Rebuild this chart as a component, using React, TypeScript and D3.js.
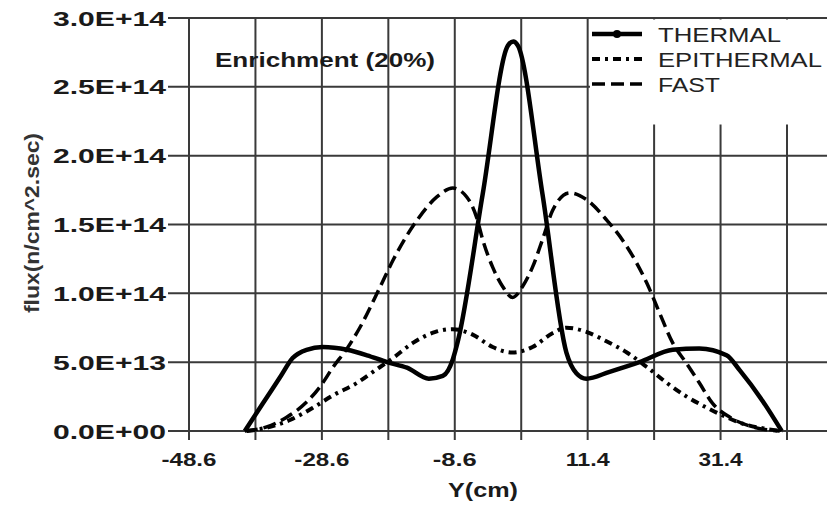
import * as d3 from "d3";

// flux in units of 1E+14 n/cm^2.sec, position in cm
const thermal: [number, number][] = [
  [-40.2, 0], [-37.5, 0.2], [-34.9, 0.39], [-33, 0.53], [-30.9, 0.59], [-28.5, 0.61],
  [-24.8, 0.59], [-21.8, 0.55], [-18.8, 0.5], [-15.8, 0.46], [-12.5, 0.38], [-10.4, 0.4],
  [-8.9, 0.52], [-8.1, 0.66], [-4.4, 1.72], [-0.6, 2.8], [0.2, 2.83], [0.9, 2.8],
  [4.6, 1.72], [8.2, 0.57], [9.7, 0.42], [11.2, 0.38], [14.7, 0.43], [19.2, 0.5],
  [24.2, 0.59], [28.2, 0.6], [32.3, 0.55], [34.3, 0.44], [37.7, 0.22], [40.6, 0],
];

const epithermal: [number, number][] = [
  [-39.9, 0], [-36.4, 0.03], [-33.4, 0.08], [-29.9, 0.17], [-26.9, 0.26], [-23.3, 0.35],
  [-20.9, 0.43], [-17.9, 0.53], [-14.9, 0.64], [-11.5, 0.72], [-8.9, 0.74], [-5.9, 0.7],
  [-2.9, 0.61], [0.1, 0.57], [3.1, 0.61], [6.1, 0.71], [8.2, 0.75], [11.2, 0.72],
  [14.3, 0.65], [17.3, 0.57], [20.3, 0.465], [23.3, 0.35], [26.3, 0.25], [29.3, 0.17],
  [32.3, 0.1], [35.3, 0.045], [38.3, 0.015], [40.7, 0],
];

const fast: [number, number][] = [
  [-40.2, 0], [-36.9, 0.03], [-33.9, 0.1], [-30.9, 0.21], [-28.9, 0.32], [-26.9, 0.465],
  [-24.8, 0.6], [-22.9, 0.75], [-19.9, 1.04], [-17.9, 1.24], [-14.3, 1.53], [-11.3, 1.7],
  [-8.9, 1.765], [-6.8, 1.7], [-5.3, 1.55], [-4.4, 1.39], [-2.9, 1.19], [-1.4, 1.05],
  [0.1, 0.97], [1.6, 1.05], [3.1, 1.19], [4.6, 1.39], [6.1, 1.6], [8.7, 1.73],
  [11.25, 1.68], [14.3, 1.53], [17.3, 1.34], [20.3, 1.075], [22.2, 0.86], [24.2, 0.64],
  [26.3, 0.49], [28.2, 0.35], [30.2, 0.2], [32.8, 0.1], [36.2, 0.03], [40.3, 0],
];

const xGrid = d3.range(10).map((i) => -48.6 + 10 * i);
const xLabels = [-48.6, -28.6, -8.6, 11.4, 31.4];
const yTicks = [0, 0.5, 1, 1.5, 2, 2.5, 3];

const legendItems = [
  { name: "THERMAL", dash: "none", w: 4.5, len: 123 },
  { name: "EPITHERMAL", dash: "8,5,3,5", w: 4, len: 164 },
  { name: "FAST", dash: "13,6", w: 3.5, len: 62 },
];

const fmtY = (v: number) =>
  d3.format(".1e")(v * 1e14).toUpperCase().replace(/E([+-])(\d)$/, "E$10$2");

export default function App() {
  const W = 827;
  const H = 508;
  const left = 189, right = 827, top = 18, bottom = 431;

  const x = d3.scaleLinear().domain([-48.6, 41.4]).range([left, 787]);
  const y = d3.scaleLinear().domain([0, 3]).range([bottom, top]);

  const line = d3
    .line<[number, number]>()
    .x((d) => x(d[0]))
    .y((d) => y(d[1]))
    .curve(d3.curveMonotoneX);

  const grid = "#3a3a3a";

  return (
    <svg
      width={W}
      height={H}
      style={{ position: "absolute", left: 0, top: 0, background: "#fff" }}
      fontFamily="Liberation Sans, Arial, sans-serif"
    >
      <rect width={W} height={H} fill="#fff" />

      {/* grid */}
      {yTicks.map((t) => (
        <line key={"h" + t} x1={168} x2={right} y1={y(t)} y2={y(t)} stroke={grid} strokeWidth={2} />
      ))}
      {xGrid.map((t) => (
        <line key={"v" + t} x1={x(t)} x2={x(t)} y1={top} y2={bottom + 9} stroke={grid} strokeWidth={2} />
      ))}

      {/* legend box covers part of the grid */}
      <rect x={590} y={top + 1.5} width={right - 590} height={105} fill="#fff" />

      {/* y tick labels */}
      {yTicks.map((t) => (
        <text
          key={"yl" + t}
          x={166}
          y={y(t)}
          dy="0.36em"
          textAnchor="end"
          fontSize={21}
          fontWeight="bold"
          fill="#1a1a1a"
          textLength={113}
          lengthAdjust="spacingAndGlyphs"
        >
          {fmtY(t)}
        </text>
      ))}

      {/* x tick labels */}
      {xLabels.map((t) => (
        <text
          key={"xl" + t}
          x={x(t)}
          y={466}
          textAnchor="middle"
          fontSize={18}
          fontWeight="bold"
          fill="#1a1a1a"
          textLength={String(t.toFixed(1)).length * 11}
          lengthAdjust="spacingAndGlyphs"
        >
          {t.toFixed(1)}
        </text>
      ))}

      <text
        x={483}
        y={497}
        textAnchor="middle"
        fontSize={21}
        fontWeight="bold"
        fill="#1a1a1a"
        textLength={70}
        lengthAdjust="spacingAndGlyphs"
      >
        Y(cm)
      </text>

      <text
        transform="translate(39,223) rotate(-90)"
        textAnchor="middle"
        fontSize={20}
        fontWeight="bold"
        fill="#333"
        textLength={180}
        lengthAdjust="spacingAndGlyphs"
      >
        flux(n/cm^2.sec)
      </text>

      <text
        x={215}
        y={67}
        fontSize={20}
        fontWeight="bold"
        fill="#1a1a1a"
        textLength={220}
        lengthAdjust="spacingAndGlyphs"
      >
        Enrichment (20%)
      </text>

      {/* curves */}
      <path d={line(fast) || ""} fill="none" stroke="#000" strokeWidth={3.5} strokeDasharray="13,6" />
      <path d={line(epithermal) || ""} fill="none" stroke="#000" strokeWidth={4} strokeDasharray="8,5,3,5" />
      <path d={line(thermal) || ""} fill="none" stroke="#000" strokeWidth={4.5} strokeLinejoin="round" />

      {/* legend */}
      {legendItems.map((d, i) => {
        const ly = 34 + i * 25;
        return (
          <g key={d.name}>
            <line x1={592} x2={642} y1={ly} y2={ly} stroke="#000" strokeWidth={d.w} strokeDasharray={d.dash} />
            {i === 0 && <circle cx={617} cy={ly} r={4} fill="#000" />}
            <text
              x={658}
              y={ly}
              dy="0.36em"
              fontSize={21}
              fill="#222"
              textLength={d.len}
              lengthAdjust="spacingAndGlyphs"
            >
              {d.name}
            </text>
          </g>
        );
      })}
    </svg>
  );
}
